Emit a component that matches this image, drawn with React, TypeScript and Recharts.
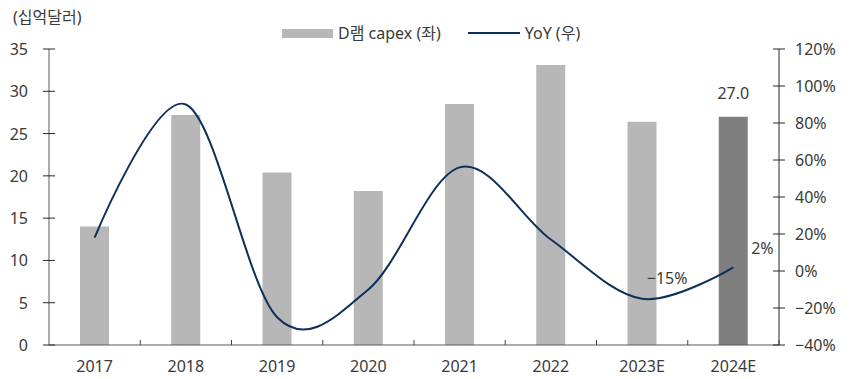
import React from 'react';
import { ComposedChart, Bar, Line, XAxis, YAxis, Cell, LabelList, Legend } from 'recharts';

const years = ['2017', '2018', '2019', '2020', '2021', '2022', '2023E', '2024E'];
const capex = [14.0, 27.2, 20.4, 18.2, 28.5, 33.1, 26.4, 27.0];
const yoy = [18, 90, -25, -10, 56, 17, -15, 2];
const capexLabels = ['', '', '', '', '', '', '', '27.0'];
const yoyLabels = ['', '', '', '', '', '', '−15%', '2%'];
const leftTicks = [0, 5, 10, 15, 20, 25, 30, 35];
const rightTicks = [-40, -20, 0, 20, 40, 60, 80, 100, 120];

const FONT = "'Noto Sans', 'Noto Sans CJK KR', sans-serif";
const TEXT = '#3a3a3a';
const BAR = '#b7b7b7';
const BAR_DARK = '#7f7f7f';
const NAVY = '#0c2f5c';
const HALF_BAND = 91.25 / 2;

const rows = years.map((year, i) => ({
  year,
  capex: capex[i],
  yoy: yoy[i],
  capexLabel: capexLabels[i],
  yoyLabel: yoyLabels[i],
}));

// Excel-style smoothed line (cardinal spline, tension 0)
function smoothCurve(context: any) {
  const k = 1 / 6;
  let x0 = NaN, x1 = NaN, x2 = NaN, y0 = NaN, y1 = NaN, y2 = NaN;
  let n = 0;
  let line: number = NaN;
  const seg = (x: number, y: number) => {
    context.bezierCurveTo(x1 + k * (x2 - x0), y1 + k * (y2 - y0), x2 + k * (x1 - x), y2 + k * (y1 - y), x2, y2);
  };
  return {
    areaStart() { line = 0; },
    areaEnd() { line = NaN; },
    lineStart() { x0 = x1 = x2 = y0 = y1 = y2 = NaN; n = 0; },
    lineEnd() {
      if (n === 2) context.lineTo(x2, y2);
      else if (n === 3) seg(x1, y1);
      if (line || (line !== 0 && n === 1)) context.closePath();
      line = 1 - line;
    },
    point(x: number, y: number) {
      x = +x; y = +y;
      if (n === 0) { n = 1; line ? context.lineTo(x, y) : context.moveTo(x, y); }
      else if (n === 1) { n = 2; x1 = x; y1 = y; }
      else { n = 3; seg(x, y); }
      x0 = x1; x1 = x2; x2 = x;
      y0 = y1; y1 = y2; y2 = y;
    },
  };
}

const fmtPct = (v: number) => (v < 0 ? `−${Math.abs(v)}%` : `${v}%`);

const LeftTick = (p: any) => (
  <g>
    <line x1={p.x - 6} x2={p.x + 6} y1={p.y} y2={p.y} stroke="#262626" />
    <text x={p.x - 21} y={p.y + 6} textAnchor="end" fill={TEXT} fontSize={16} fontFamily={FONT}>
      {p.payload.value}
    </text>
  </g>
);

const RightTick = (p: any) => (
  <g>
    <line x1={p.x - 6} x2={p.x + 6} y1={p.y} y2={p.y} stroke="#262626" />
    <text x={p.x + 16} y={p.y + 6} textAnchor="start" fill={TEXT} fontSize={16} fontFamily={FONT}>
      {fmtPct(p.payload.value)}
    </text>
  </g>
);

const XTick = (p: any) => (
  <g>
    <line x1={p.x + HALF_BAND} x2={p.x + HALF_BAND} y1={p.y - 5} y2={p.y} stroke="#404040" />
    <text x={p.x} y={p.y + 27} textAnchor="middle" fill={TEXT} fontSize={16} fontFamily={FONT}>
      {p.payload.value}
    </text>
  </g>
);

const capexLabel = (p: any) => {
  if (!p.value) return null;
  return (
    <text x={p.x + p.width / 2} y={p.y - 18} textAnchor="middle" fill={TEXT} fontSize={16} fontFamily={FONT}>
      {p.value}
    </text>
  );
};

const yoyShift: Record<string, { dx: number; dy: number }> = {
  '−15%': { dx: 25, dy: -15 },
  '2%': { dx: 29, dy: -13 },
};

const yoyLabel = (p: any) => {
  if (!p.value) return null;
  const s = yoyShift[p.value] || { dx: 25, dy: -14 };
  return (
    <text x={p.x + s.dx} y={p.y + s.dy} textAnchor="middle" fill={TEXT} fontSize={16} fontFamily={FONT}>
      {p.value}
    </text>
  );
};

const legendContent = () => (
  <div style={{ display: 'flex', alignItems: 'center', height: 22, fontFamily: FONT, fontSize: 16, color: TEXT, whiteSpace: 'nowrap' }}>
    <span style={{ display: 'inline-block', width: 51, height: 9, background: BAR, marginRight: 5 }} />
    <span style={{ lineHeight: '22px' }}>D램 capex (좌)</span>
    <span style={{ display: 'inline-block', width: 52, height: 2, background: NAVY, marginLeft: 27, marginRight: 5 }} />
    <span style={{ lineHeight: '22px' }}>YoY (우)</span>
  </div>
);

export default function App() {
  return (
    <div style={{ position: 'relative', width: 850, height: 379, background: '#fff' }}>
      <style>{'body{margin:0}'}</style>
      <div style={{ position: 'absolute', left: 13, top: 6, fontFamily: FONT, fontSize: 16, color: TEXT, lineHeight: '22px' }}>
        (십억달러)
      </div>
      <ComposedChart width={850} height={379} data={rows} margin={{ top: 49, right: 0, bottom: 0, left: 0 }}>
        <XAxis
          dataKey="year"
          height={34}
          interval={0}
          tickSize={0}
          tickMargin={0}
          tickLine={false}
          axisLine={{ stroke: '#595959' }}
          tick={<XTick />}
        />
        <YAxis
          yAxisId="left"
          width={49}
          domain={[0, 35]}
          ticks={leftTicks}
          interval={0}
          tickSize={0}
          tickMargin={0}
          tickLine={false}
          axisLine={{ stroke: '#595959' }}
          tick={<LeftTick />}
        />
        <YAxis
          yAxisId="right"
          orientation="right"
          width={71}
          domain={[-40, 120]}
          ticks={rightTicks}
          interval={0}
          tickSize={0}
          tickMargin={0}
          tickLine={false}
          axisLine={{ stroke: '#262626' }}
          tick={<RightTick />}
        />
        <Legend
          layout="horizontal"
          verticalAlign="middle"
          align="center"
          wrapperStyle={{ top: 22, left: 282, width: 330 }}
          content={legendContent}
        />
        <Bar yAxisId="left" dataKey="capex" name="D램 capex (좌)" barSize={29} isAnimationActive={false}>
          {rows.map((r, i) => (
            <Cell key={r.year} fill={i === rows.length - 1 ? BAR_DARK : BAR} />
          ))}
          <LabelList dataKey="capexLabel" content={capexLabel} />
        </Bar>
        <Line
          yAxisId="right"
          dataKey="yoy"
          name="YoY (우)"
          type={smoothCurve as any}
          stroke={NAVY}
          strokeWidth={2}
          dot={false}
          activeDot={false}
          isAnimationActive={false}
        >
          <LabelList dataKey="yoyLabel" content={yoyLabel} />
        </Line>
      </ComposedChart>
    </div>
  );
}
